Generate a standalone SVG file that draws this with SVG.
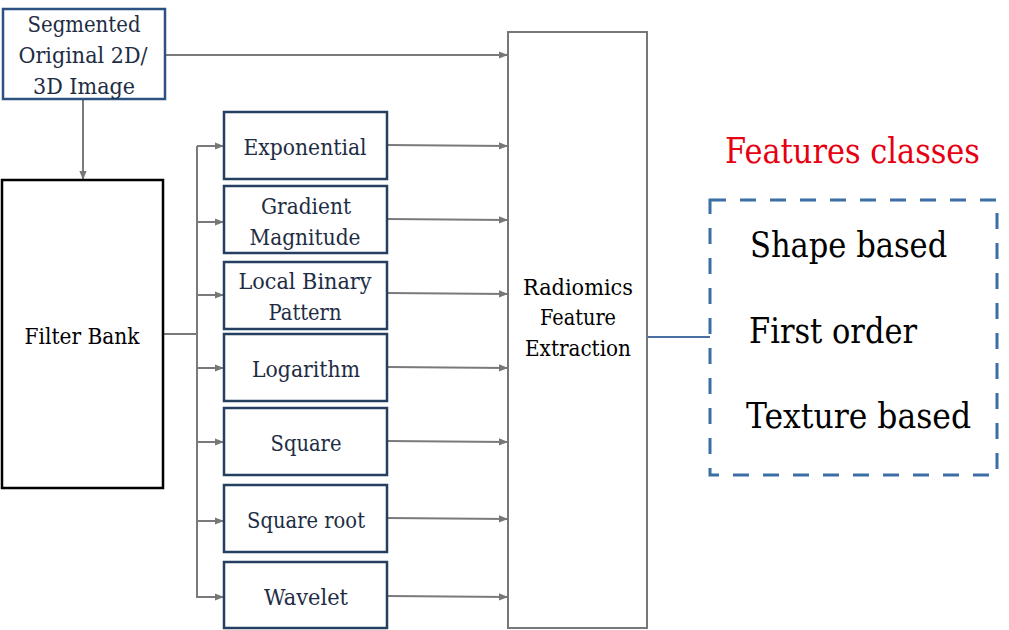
<svg xmlns="http://www.w3.org/2000/svg" width="1009" height="630" viewBox="0 0 1009 630">
<defs>
<marker id="ah" viewBox="0 0 10 10" refX="10" refY="5" markerWidth="10" markerHeight="9" markerUnits="userSpaceOnUse" orient="auto">
<path d="M0,1 L10,5 L0,9 z" fill="#777"/>
</marker>
<style>
.t{font-family:"DejaVu Serif","Liberation Serif","Times New Roman",serif;font-size:23px;fill:#1e2d44;text-anchor:middle}
.fb{stroke:#243f60;stroke-width:2.5;fill:#fff}
.c{stroke:#7a7a7a;stroke-width:2;fill:none}
.big{font-family:"DejaVu Serif","Liberation Serif","Times New Roman",serif;font-size:36px;fill:#000}
</style>
</defs>
<rect width="1009" height="630" fill="#fff"/>
<g id="connectors">
<line class="c" x1="165" y1="55" x2="508" y2="55" marker-end="url(#ah)"/>
<line class="c" x1="83" y1="99" x2="83" y2="180" marker-end="url(#ah)"/>
<polyline class="c" points="163,334 197,334"/>
<line class="c" x1="197" y1="146" x2="197" y2="598"/>
<line class="c" x1="197" y1="146" x2="224" y2="146" marker-end="url(#ah)"/>
<line class="c" x1="197" y1="222" x2="224" y2="222" marker-end="url(#ah)"/>
<line class="c" x1="197" y1="295" x2="224" y2="295" marker-end="url(#ah)"/>
<line class="c" x1="197" y1="368" x2="224" y2="368" marker-end="url(#ah)"/>
<line class="c" x1="197" y1="442" x2="224" y2="442" marker-end="url(#ah)"/>
<line class="c" x1="197" y1="521" x2="224" y2="521" marker-end="url(#ah)"/>
<line class="c" x1="197" y1="597" x2="224" y2="597" marker-end="url(#ah)"/>
<line class="c" x1="387" y1="145" x2="508" y2="146" marker-end="url(#ah)"/>
<line class="c" x1="387" y1="219" x2="508" y2="220" marker-end="url(#ah)"/>
<line class="c" x1="387" y1="293" x2="508" y2="294" marker-end="url(#ah)"/>
<line class="c" x1="387" y1="367" x2="508" y2="368" marker-end="url(#ah)"/>
<line class="c" x1="387" y1="441" x2="508" y2="442" marker-end="url(#ah)"/>
<line class="c" x1="387" y1="518" x2="508" y2="519" marker-end="url(#ah)"/>
<line class="c" x1="387" y1="596" x2="508" y2="597" marker-end="url(#ah)"/>
<line x1="647" y1="337" x2="710" y2="337" stroke="#4a6fa5" stroke-width="2"/>
</g>
<g id="segmented">
<rect x="3" y="9" width="162" height="90" fill="#fff" stroke="#2c5282" stroke-width="2.5"/>
<text class="t" x="84" y="32" textLength="113" lengthAdjust="spacingAndGlyphs">Segmented</text>
<text class="t" x="83" y="63" textLength="129" lengthAdjust="spacingAndGlyphs">Original 2D/</text>
<text class="t" x="84" y="94" textLength="102" lengthAdjust="spacingAndGlyphs">3D Image</text>
</g>
<g id="filterbank">
<rect x="2" y="180" width="161" height="308" fill="#fff" stroke="#000" stroke-width="2.5"/>
<text class="t" x="82" y="344" textLength="115" lengthAdjust="spacingAndGlyphs" style="fill:#000">Filter Bank</text>
</g>
<g id="exponential">
<rect class="fb" x="224" y="112" width="163" height="67"/>
<text class="t" x="305" y="155" textLength="123" lengthAdjust="spacingAndGlyphs">Exponential</text>
</g>
<g id="gradient">
<rect class="fb" x="224" y="186" width="163" height="67"/>
<text class="t" x="306" y="214" textLength="90" lengthAdjust="spacingAndGlyphs">Gradient</text>
<text class="t" x="305" y="245" textLength="111" lengthAdjust="spacingAndGlyphs">Magnitude</text>
</g>
<g id="lbp">
<rect class="fb" x="224" y="262" width="163" height="67"/>
<text class="t" x="305" y="289" textLength="133" lengthAdjust="spacingAndGlyphs">Local Binary</text>
<text class="t" x="305" y="320" textLength="73" lengthAdjust="spacingAndGlyphs">Pattern</text>
</g>
<g id="logarithm">
<rect class="fb" x="224" y="334" width="163" height="67"/>
<text class="t" x="306" y="377" textLength="108" lengthAdjust="spacingAndGlyphs">Logarithm</text>
</g>
<g id="square">
<rect class="fb" x="224" y="408" width="163" height="67"/>
<text class="t" x="306" y="451" textLength="71" lengthAdjust="spacingAndGlyphs">Square</text>
</g>
<g id="squareroot">
<rect class="fb" x="224" y="485" width="163" height="67"/>
<text class="t" x="306" y="528" textLength="118" lengthAdjust="spacingAndGlyphs">Square root</text>
</g>
<g id="wavelet">
<rect class="fb" x="224" y="562" width="163" height="66"/>
<text class="t" x="306" y="605" textLength="84" lengthAdjust="spacingAndGlyphs">Wavelet</text>
</g>
<g id="radiomics">
<rect x="508" y="32" width="139" height="596" fill="#fff" stroke="#777" stroke-width="2"/>
<text class="t" x="578" y="295" textLength="110" lengthAdjust="spacingAndGlyphs" style="fill:#000">Radiomics</text>
<text class="t" x="578" y="325" textLength="76" lengthAdjust="spacingAndGlyphs" style="fill:#000">Feature</text>
<text class="t" x="578" y="356" textLength="106" lengthAdjust="spacingAndGlyphs" style="fill:#000">Extraction</text>
</g>
<g id="features">
<text class="big" transform="translate(725,163) scale(0.75,1)" textLength="340" lengthAdjust="spacingAndGlyphs" style="fill:#e60012">Features classes</text>
<rect x="710" y="200" width="287" height="275" fill="none" stroke="#3a6ea5" stroke-width="3" stroke-dasharray="16,14"/>
<text class="big" transform="translate(750,257) scale(0.75,1)" textLength="263" lengthAdjust="spacingAndGlyphs">Shape based</text>
<text class="big" transform="translate(749,343) scale(0.75,1)" textLength="224" lengthAdjust="spacingAndGlyphs">First order</text>
<text class="big" transform="translate(746,428) scale(0.75,1)" textLength="300" lengthAdjust="spacingAndGlyphs">Texture based</text>
</g>
</svg>
